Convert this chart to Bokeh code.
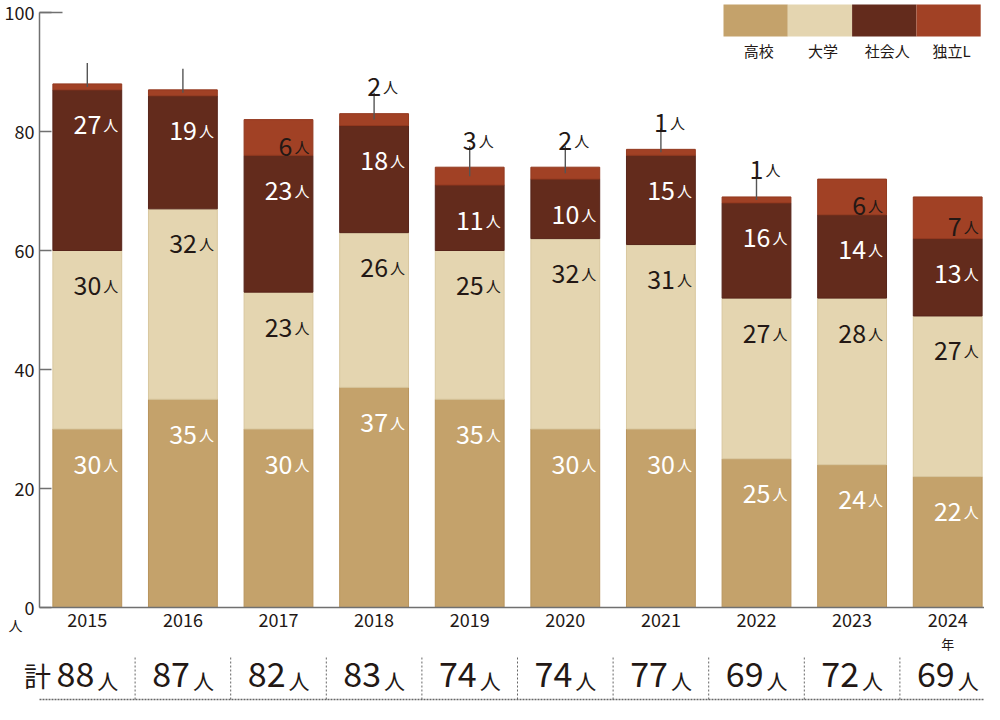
from bokeh.plotting import figure
from bokeh.models import ColumnDataSource, Range1d, LinearAxis, FixedTicker
from bokeh.embed import file_html
from bokeh.resources import INLINE
from bokeh.core.properties import value

# ---------------- data ----------------
years = ["2015", "2016", "2017", "2018", "2019", "2020", "2021", "2022", "2023", "2024"]
highschool = [30, 35, 30, 37, 35, 30, 30, 25, 24, 22]
university = [30, 32, 23, 26, 25, 32, 31, 27, 28, 27]
working = [27, 19, 23, 18, 11, 10, 15, 16, 14, 13]
independent = [1, 1, 6, 2, 3, 2, 1, 1, 6, 7]
totals = [88, 87, 82, 83, 74, 74, 77, 69, 72, 69]
y_ticks = [0, 20, 40, 60, 80, 100]
series_names = ["高校", "大学", "社会人", "独立L"]
# how the independent count is labelled: none / inside the bar / above with leader line
indep_label_mode = ["none", "none", "inside", "above", "above", "above", "above", "above", "inside", "inside"]

# ---------------- style ----------------
FONT = "Noto Sans CJK JP"
colors = ["#C4A26B", "#E4D5B0", "#632B1C", "#A14125"]
edge_colors = ["#B8945C", "#D8C79F", "#57241A", "#93391F"]
label_colors = ["#FFFFFF", "#231815", "#FFFFFF", "#231815"]
DARK = "#231815"
AXIS = "#707070"

W, H = 984, 704
SLOT_PX = 95.6                 # pixel width of one year slot
AXIS_PX = 39                   # pixel position of the y axis
X0 = -0.5 - AXIS_PX / SLOT_PX
X1 = X0 + W / SLOT_PX
ZERO_PX, HUNDRED_PX = 607, 12  # pixel rows of 0 and 100
PPU = (ZERO_PX - HUNDRED_PX) / 100.0
Y1 = 100 + HUNDRED_PX / PPU
Y0 = -(H - ZERO_PX) / PPU
BAR_W = 0.72


def below(px):
    return -px / PPU


def from_top(px):
    return Y1 - px / PPU


p = figure(width=W, height=H, x_range=Range1d(X0, X1), y_range=Range1d(Y0, Y1),
           output_backend="svg", toolbar_location=None,
           x_axis_type=None, y_axis_type=None, min_border=0,
           outline_line_color=None, background_fill_color="white")

xs = list(range(len(years)))
src = ColumnDataSource(dict(x=xs, hs=highschool, univ=university, work=working, indep=independent))
p.vbar_stack(["hs", "univ", "work", "indep"], x="x", width=BAR_W, source=src,
             fill_color=colors, line_color=edge_colors, line_width=1)

# ---------------- axes ----------------
yaxis = LinearAxis(fixed_location=-0.5, bounds=(0, 100), ticker=FixedTicker(ticks=y_ticks),
                   major_tick_in=12, major_tick_out=0, minor_tick_in=0, minor_tick_out=0,
                   axis_line_color=AXIS, axis_line_width=1.5, major_tick_line_color=AXIS,
                   major_tick_line_width=1.5, major_label_standoff=5,
                   major_label_text_font=FONT, major_label_text_font_size="18px",
                   major_label_text_color=DARK)
p.add_layout(yaxis, "left")
# longer tick line at 100
p.segment(x0=[-0.5], y0=[y_ticks[-1]], x1=[-0.5 + 23 / SLOT_PX], y1=[y_ticks[-1]],
          line_color=AXIS, line_width=1.5)

xaxis = LinearAxis(fixed_location=0, bounds=(-0.5, X1), ticker=FixedTicker(ticks=xs),
                   major_label_overrides={i: y for i, y in enumerate(years)},
                   major_tick_in=0, major_tick_out=0, minor_tick_in=0, minor_tick_out=0,
                   axis_line_color=AXIS, axis_line_width=1.5, major_label_standoff=5,
                   major_label_text_font=FONT, major_label_text_font_size="18px",
                   major_label_text_color=DARK)
p.add_layout(xaxis, "below")

p.text(x=[X0 + 15 / SLOT_PX], y=[below(17)], text=["人"], text_font=value(FONT), text_font_size="14px",
       text_align="center", text_baseline="middle", text_color=DARK)
p.text(x=[xs[-1]], y=[below(36)], text=["年"], text_font=value(FONT), text_font_size="13px",
       text_align="center", text_baseline="middle", text_color=DARK)

# ---------------- segment labels ----------------
num = dict(x=[], y=[], t=[], c=[])
unit = dict(x=[], y=[], t=[], c=[])
above_num = dict(x=[], y=[], t=[])
above_unit = dict(x=[], y=[], t=[])
lead = dict(x0=[], y0=[], x1=[], y1=[])

stacks = [highschool, university, working]
for i in xs:
    base = 0
    for k, series in enumerate(stacks):
        top = base + series[i]
        yb = top - 35 / PPU
        num["x"].append(i); num["y"].append(yb); num["t"].append(str(series[i])); num["c"].append(label_colors[k])
        unit["x"].append(i); unit["y"].append(yb); unit["t"].append("人"); unit["c"].append(label_colors[k])
        base = top
    top = base + independent[i]
    mode = indep_label_mode[i]
    if mode == "inside":
        yb = (base + top) / 2 - 9 / PPU
        num["x"].append(i); num["y"].append(yb); num["t"].append(str(independent[i])); num["c"].append(label_colors[3])
        unit["x"].append(i); unit["y"].append(yb); unit["t"].append("人"); unit["c"].append(label_colors[3])
    else:
        lead["x0"].append(i); lead["y0"].append((base + top) / 2)
        lead["x1"].append(i); lead["y1"].append(top + 21 / PPU)
        if mode == "above":
            yb = top + 27 / PPU
            above_num["x"].append(i); above_num["y"].append(yb); above_num["t"].append(str(independent[i]))
            above_unit["x"].append(i); above_unit["y"].append(yb); above_unit["t"].append("人")

p.segment(x0="x0", y0="y0", x1="x1", y1="y1", source=ColumnDataSource(lead),
          line_color="#555555", line_width=1.4)

p.text(x="x", y="y", text="t", source=ColumnDataSource(num), text_color="c",
       text_font=value(FONT), text_font_size="25px", text_align="right",
       text_baseline="alphabetic", x_offset=14)
p.text(x="x", y="y", text="t", source=ColumnDataSource(unit), text_color="c",
       text_font=value(FONT), text_font_size="15px", text_align="left",
       text_baseline="alphabetic", x_offset=16)
p.text(x="x", y="y", text="t", source=ColumnDataSource(above_num), text_color=DARK,
       text_font=value(FONT), text_font_size="25px", text_align="center",
       text_baseline="alphabetic")
p.text(x="x", y="y", text="t", source=ColumnDataSource(above_unit), text_color=DARK,
       text_font=value(FONT), text_font_size="15px", text_align="left",
       text_baseline="alphabetic", x_offset=9)

# ---------------- totals row ----------------
tot_mid = 67   # px below the zero line
p.text(x=xs, y=[below(tot_mid)] * len(xs), text=[str(t) for t in totals], text_color=DARK,
       text_font=value(FONT), text_font_size="34px", text_align="right",
       text_baseline="middle", x_offset=7)
p.text(x=xs, y=[below(tot_mid + 5)] * len(xs), text=["人"] * len(xs), text_color=DARK,
       text_font=value(FONT), text_font_size="21px", text_align="left",
       text_baseline="middle", x_offset=10)
p.text(x=[X0 + 37 / SLOT_PX], y=[below(tot_mid + 1)], text=["計"], text_color=DARK, text_font=value(FONT),
       text_font_size="27px", text_align="center", text_baseline="middle")

sep_x = [i + 0.5 for i in xs[:-1]]
p.segment(x0=sep_x, y0=[below(50)] * len(sep_x), x1=sep_x, y1=[below(92)] * len(sep_x),
          line_color="#666666", line_width=1, line_dash="2 2")
p.segment(x0=[-0.5], y0=[below(92)], x1=[X1], y1=[below(92)],
          line_color="#666666", line_width=1.5, line_dash="2 1")

# ---------------- legend ----------------
leg_left = X0 + 723 / SLOT_PX
leg_w = 64.3 / SLOT_PX
lefts = [leg_left + k * leg_w for k in range(4)]
p.quad(left=lefts, right=[l + leg_w for l in lefts], top=[from_top(4)] * 4,
       bottom=[from_top(36)] * 4, fill_color=colors, line_color=None)
p.text(x=[l + leg_w / 2 + 3 / SLOT_PX for l in lefts], y=[from_top(50)] * 4, text=series_names,
       text_color=DARK, text_font=value(FONT), text_font_size="15px",
       text_align="center", text_baseline="middle")

open("out.html", "w").write(file_html(p, INLINE))
